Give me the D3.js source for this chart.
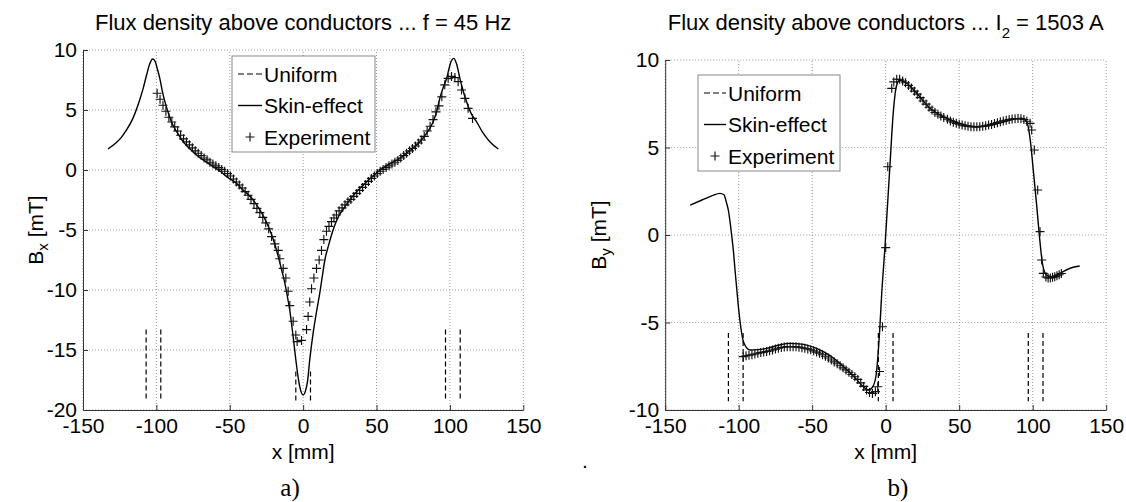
<!DOCTYPE html>
<html>
<head>
<meta charset="utf-8">
<script src="https://cdn.jsdelivr.net/npm/d3@7"></script>
<style>
  body { margin: 0; background: #fff; }
  svg text { font-family: "Liberation Sans", Arial, sans-serif; fill: #000; }
</style>
</head>
<body>
<svg width="1126" height="502"></svg>
<script>
// tick values
let xTicks = [-150, -100, -50, 0, 50, 100, 150];
let bxTicks = [-20, -15, -10, -5, 0, 5, 10];
let byTicks = [-10, -5, 0, 5, 10];

// conductor edges drawn with the "Uniform" dashed style
let uniformX = [-107, -97, -5, 5, 97, 107];
let bxUniformTop = [-13.3, -13.3, -16.8, -16.8, -13.3, -13.3];
let bxUniformBottom = -19.3;
let byUniformTop = [-5.6, -5.6, -5.6, -5.6, -5.6, -5.6];
let byUniformBottom = -9.5;

// a) Bx, skin-effect model
let bxSkinX = [-133, -128, -124, -120, -116, -112, -109, -106.5, -104.5, -102.6,
  -101, -99.5, -97.6, -96, -94.2, -92, -89.7, -86, -81.8, -77,
  -72.6, -67, -61.3, -56, -52.2, -46, -40.9, -35, -29.5, -26,
  -22.7, -19.5, -17, -14.5, -12.5, -10.5, -9.1, -6.8, -5, -3,
  -1.5, 0, 1.5, 3, 4.5, 6.8, 9, 11.4, 13, 14.8,
  17.5, 20.4, 24, 28.4, 33, 37.5, 45.4, 52, 58, 65.9,
  72, 79.5, 84, 88.6, 91, 93.1, 95.5, 97.7, 99.5, 101,
  102.7, 104.5, 106.8, 109, 111.3, 114.5, 118.1, 122, 127.2, 133];
let bxSkinY = [1.75, 2.2, 2.7, 3.4, 4.3, 5.6, 6.8, 8.0, 8.85, 9.25,
  9.1, 8.5, 7.6, 6.6, 5.7, 4.8, 4.0, 3.15, 2.36, 1.75,
  1.25, 0.75, 0.28, -0.15, -0.55, -1.05, -1.67, -2.35, -3.33, -4.1,
  -5.0, -6.1, -7.2, -8.4, -9.4, -10.7, -11.7, -13.9, -15.8, -17.6,
  -18.45, -18.75, -18.45, -17.6, -15.8, -13.6, -11.9, -10.2, -8.9, -7.5,
  -6.2, -5.0, -3.9, -3.06, -2.3, -1.67, -0.75, -0.05, 0.45, 0.97,
  1.55, 2.36, 3.05, 4.03, 4.9, 5.97, 6.9, 7.6, 8.5, 9.1,
  9.3, 8.85, 7.64, 6.6, 5.7, 4.7, 4.03, 3.2, 2.36, 1.75];

// a) Bx, measured
let bxExpX = [-99.5, -97.5, -95.5, -93.5, -91.5, -89.5, -87.5, -85.5, -83.5, -81.5,
  -79.5, -77.5, -75.5, -73.5, -71.5, -69.5, -67.5, -65.5, -63.5, -61.5,
  -59.5, -57.5, -55.5, -53.5, -51.5, -49.5, -47.5, -45.5, -43.5, -41.5,
  -39.5, -37.5, -35.5, -33.5, -31.5, -29.5, -27.5, -25.5, -23.5, -21.5,
  -19.3, -17, -15.9, -13.6, -11.8, -10.2, -9.1, -6.8, -5, -4.1, -1.1,
  2.3, 3.4, 4.5, 5.7, 7.3, 9.1, 10.9, 12.5, 14.1, 15.9,
  17.6, 19.3, 21, 22.7, 24.5, 26.5, 28.5, 30.5, 32.5, 34.5,
  36.5, 38.5, 40.5, 42.5, 44.5, 46.5, 48.5, 50.5, 52.5, 54.5,
  56.5, 58.5, 60.5, 62.5, 64.5, 66.5, 68.5, 70.5, 72.5, 74.5,
  76.5, 78.5, 80.5, 82.5, 84.5, 86.5, 88.5, 90.5, 92.5, 94.5,
  96.5, 98.8, 101.1, 103.4, 105.6, 107.9, 110.2, 112.4, 115.4];
let bxExpY = [6.4, 5.9, 5.4, 4.9, 4.4, 4.0, 3.6, 3.25, 2.9, 2.6,
  2.35, 2.1, 1.85, 1.6, 1.4, 1.2, 1.0, 0.85, 0.65, 0.5,
  0.35, 0.2, 0.05, -0.1, -0.3, -0.5, -0.75, -1.0, -1.25, -1.5,
  -1.8, -2.1, -2.45, -2.8, -3.2, -3.55, -3.95, -4.4, -4.9, -5.55,
  -6.15, -6.7, -7.4, -8.2, -9.0, -10.1, -11.3, -12.6, -13.75, -14.3, -14.2,
  -13.3, -12.2, -11.0, -9.9, -9.0, -8.2, -7.5, -6.7, -5.8, -5.1,
  -4.7, -4.3, -4.0, -3.75, -3.4, -3.15, -2.9, -2.65, -2.45, -2.2,
  -1.95, -1.7, -1.45, -1.2, -0.95, -0.7, -0.5, -0.3, -0.1, 0.05,
  0.2, 0.35, 0.5, 0.65, 0.8, 1.0, 1.2, 1.4, 1.6, 1.8,
  2.0, 2.25, 2.5, 2.8, 3.25, 3.65, 4.2, 4.85, 5.35, 6.1,
  7.1, 7.64, 7.8, 7.7, 7.36, 6.67, 5.97, 5.14, 4.3];

// b) By, skin-effect model
let bySkinX = [-133, -125, -118, -112.7, -110, -108.5, -107, -105.8, -104.8, -103.5,
  -102.5, -101.3, -100.2, -99, -98, -96.8, -95.7, -94, -92.3, -87,
  -81, -73, -65, -59, -53.7, -48, -42.4, -36, -28.8, -22,
  -15.2, -11.6, -9, -6.7, -4.2, -2.7, -0.5, 1.1, 2.9, 5.2,
  7.5, 9.7, 14.3, 21.1, 30.1, 39.2, 50.5, 61.9, 73.2, 84.6,
  92.5, 95.9, 98.2, 100.5, 102.7, 104.5, 106.8, 109.5, 114, 118.6,
  125.4, 132];
let bySkinY = [1.71, 2.0, 2.25, 2.38, 2.3, 1.9, 1.4, 0.7, 0, -1.0,
  -2.0, -3.1, -4.1, -5.0, -5.6, -6.1, -6.3, -6.5, -6.57, -6.55,
  -6.48, -6.3, -6.19, -6.22, -6.29, -6.45, -6.67, -7.0, -7.52, -8.05,
  -8.67, -8.86, -8.7, -8.1, -5.6, -3.33, -0.67, 1.52, 4.0, 7.05,
  8.57, 8.86, 8.67, 8.1, 7.24, 6.76, 6.38, 6.19, 6.29, 6.57,
  6.67, 6.48, 5.52, 3.62, 1.71, 0, -1.71, -2.29, -2.38, -2.19,
  -1.9, -1.77];

// b) By, measured
let byExpX = [-96.9, -95, -93, -91, -89, -87, -85, -83, -81, -79,
  -77, -75, -73, -71, -69, -67, -65, -63, -61, -59,
  -57, -55, -53, -51, -49, -47, -45, -43, -41, -39,
  -37, -35, -33, -31, -29, -27, -25, -23, -21, -19,
  -17, -15, -13, -11, -9, -7, -5.4, -4.2, -2.2, 0, 1.4, 4.1,
  5.5, 7.5, 9.5, 11.5, 13.5, 15.5, 17.5, 19.5, 21.5, 23.5,
  25.5, 27.5, 29.5, 31.5, 33.5, 35.5, 37.5, 39.5,
  42, 44, 46, 48, 50, 52, 54, 56, 58, 60,
  62, 64, 66, 68, 70, 72, 74, 76, 78, 80,
  82, 84, 86, 88, 90, 92, 94, 96,
  98.2, 99.3, 101.1, 103.4, 105, 106.1, 107.2,
  109, 110.5, 112, 113.5, 115, 116.5, 118, 119.5];
let byExpY = [-6.95, -6.9, -6.87, -6.84, -6.8, -6.76, -6.72, -6.69, -6.66, -6.62,
  -6.57, -6.52, -6.47, -6.43, -6.4, -6.38, -6.38, -6.38, -6.39, -6.41,
  -6.44, -6.47, -6.51, -6.56, -6.62, -6.69, -6.76, -6.84, -6.93, -7.03,
  -7.14, -7.25, -7.36, -7.47, -7.59, -7.71, -7.84, -7.97, -8.1, -8.25,
  -8.45, -8.65, -8.85, -9.0, -9.05, -8.95, -8.67, -7.8, -5.24, -0.72, 3.9, 8.38,
  8.75, 8.9, 8.9, 8.8, 8.7, 8.55, 8.4, 8.22, 8.05, 7.85,
  7.66, 7.48, 7.3, 7.14, 7.0, 6.9, 6.8, 6.72,
  6.62, 6.52, 6.45, 6.38, 6.33, 6.28, 6.24, 6.21, 6.19, 6.18,
  6.18, 6.19, 6.21, 6.24, 6.28, 6.32, 6.37, 6.42, 6.47, 6.52,
  6.56, 6.6, 6.63, 6.65, 6.66, 6.65, 6.6, 6.5,
  6.38, 6.0, 4.86, 2.57, 0.19, -1.43, -2.19,
  -2.4, -2.45, -2.45, -2.42, -2.38, -2.33, -2.27, -2.2];

let legendLabels = ["Uniform", "Skin-effect", "Experiment"];

let svg = d3.select("svg");
let plusPath = "M-4.5,0H4.5M0,-4.5V4.5";

let drawPanel = (p) => {
  let xScale = d3.scaleLinear().domain([-150, 150]).range([p.left, p.right]);
  let yScale = d3.scaleLinear().domain(p.yDomain).range([p.bottom, p.top]);
  let g = svg.append("g");

  // dotted grid
  g.selectAll(".vgrid").data(xTicks).enter().append("line")
   .attr("x1", d => xScale(d)).attr("x2", d => xScale(d))
   .attr("y1", p.bottom).attr("y2", p.top)
   .attr("stroke", "#9a9a9a").attr("stroke-dasharray", "1,2");
  g.selectAll(".hgrid").data(p.yTicks).enter().append("line")
   .attr("x1", p.left).attr("x2", p.right)
   .attr("y1", d => yScale(d)).attr("y2", d => yScale(d))
   .attr("stroke", "#9a9a9a").attr("stroke-dasharray", "1,2");

  // axes (box off: only left and bottom)
  let xAxis = d3.axisBottom(xScale).tickValues(xTicks)
                .tickSizeInner(-5).tickSizeOuter(0).tickPadding(8)
                .tickFormat(d => String(d));
  let xg = g.append("g").attr("transform", "translate(0," + p.bottom + ")").call(xAxis);
  let yAxis = d3.axisLeft(yScale).tickValues(p.yTicks)
                .tickSizeInner(-5).tickSizeOuter(0).tickPadding(6)
                .tickFormat(d => String(d));
  let yg = g.append("g").attr("transform", "translate(" + p.left + ",0)").call(yAxis);
  [xg, yg].forEach(a => {
    a.attr("font-size", 21).attr("font-family", "Liberation Sans, Arial, sans-serif");
    a.select(".domain").attr("stroke", "#333");
    a.selectAll(".tick line").attr("stroke", "#333");
    a.selectAll(".tick text").attr("fill", "#000");
  });

  // uniform (conductor edges, dashed)
  g.selectAll(".uni").data(d3.zip(uniformX, p.uniTop)).enter().append("line")
   .attr("x1", d => xScale(d[0])).attr("x2", d => xScale(d[0]))
   .attr("y1", d => yScale(d[1])).attr("y2", yScale(p.uniBottom))
   .attr("stroke", "#000").attr("stroke-width", 1.2).attr("stroke-dasharray", "5,3");

  // skin-effect curve
  let line = d3.line().x(d => xScale(d[0])).y(d => yScale(d[1])).curve(d3.curveMonotoneX);
  g.append("path").datum(d3.zip(p.skinX, p.skinY))
   .attr("d", line).attr("fill", "none").attr("stroke", "#000").attr("stroke-width", 1.4);

  // experiment markers
  g.selectAll(".exp").data(d3.zip(p.expX, p.expY)).enter().append("path")
   .attr("d", plusPath)
   .attr("transform", d => "translate(" + xScale(d[0]) + "," + yScale(d[1]) + ")")
   .attr("stroke", "#111").attr("stroke-width", 1.15).attr("fill", "none");

  // title
  let title = g.append("text").attr("x", (p.left + p.right) / 2).attr("y", 30)
               .attr("text-anchor", "middle").attr("font-size", 22);
  title.append("tspan").text(p.title);
  if (p.titleSub) {
    title.append("tspan").attr("font-size", 15).attr("dy", 8).text(p.titleSub);
    title.append("tspan").attr("dy", -8).text(p.titleEnd);
  }

  // axis labels
  g.append("text").attr("x", (p.left + p.right) / 2).attr("y", 459)
   .attr("text-anchor", "middle").attr("font-size", 21).text("x [mm]");
  let yl = g.append("text").attr("transform", "translate(" + p.ylabelX + "," + ((p.top + p.bottom) / 2) + ") rotate(-90)")
            .attr("text-anchor", "middle").attr("font-size", 21);
  yl.append("tspan").text("B");
  yl.append("tspan").attr("font-size", 15).attr("dy", 5).text(p.ySub);
  yl.append("tspan").attr("dy", -5).text(" [mT]");

  // legend
  let lg = svg.append("g");
  lg.append("rect").attr("x", p.legend.x).attr("y", p.legend.y)
    .attr("width", p.legend.w).attr("height", p.legend.h)
    .attr("fill", "#fff").attr("stroke", "#888").attr("stroke-width", 1);
  legendLabels.forEach((lab, i) => {
    let cy = p.legend.y + 18 + i * 31.5;
    let sx = p.legend.x + 6;
    if (i === 0) {
      lg.append("line").attr("x1", sx).attr("x2", sx + p.legend.sw).attr("y1", cy).attr("y2", cy)
        .attr("stroke", "#000").attr("stroke-width", 1.2).attr("stroke-dasharray", "6,3");
    } else if (i === 1) {
      lg.append("line").attr("x1", sx).attr("x2", sx + p.legend.sw).attr("y1", cy).attr("y2", cy)
        .attr("stroke", "#000").attr("stroke-width", 1.4);
    } else {
      lg.append("path").attr("d", plusPath)
        .attr("transform", "translate(" + (sx + p.legend.sw / 2) + "," + cy + ")")
        .attr("stroke", "#111").attr("stroke-width", 1.15).attr("fill", "none");
    }
    lg.append("text").attr("x", sx + p.legend.sw + 2).attr("y", cy + 7.5)
      .attr("font-size", 21).text(lab);
  });

  // panel caption
  svg.append("text").attr("x", p.capX).attr("y", 496)
     .attr("text-anchor", "middle").attr("font-size", 25)
     .style("font-family", "'Liberation Serif', 'Times New Roman', serif")
     .text(p.caption);
};

drawPanel({
  left: 83, right: 523.3, top: 50, bottom: 410,
  yDomain: [-20, 10], yTicks: bxTicks, uniTop: bxUniformTop, uniBottom: bxUniformBottom,
  skinX: bxSkinX, skinY: bxSkinY, expX: bxExpX, expY: bxExpY,
  title: "Flux density above conductors ... f = 45 Hz",
  ySub: "x", ylabelX: 43,
  legend: { x: 232, y: 56, w: 143, h: 96, sw: 24 },
  caption: "a)", capX: 290
});

drawPanel({
  left: 665.2, right: 1106.2, top: 60, bottom: 410,
  yDomain: [-10, 10], yTicks: byTicks, uniTop: byUniformTop, uniBottom: byUniformBottom,
  skinX: bySkinX, skinY: bySkinY, expX: byExpX, expY: byExpY,
  title: "Flux density above conductors ... I", titleSub: "2", titleEnd: " = 1503 A",
  ySub: "y", ylabelX: 606,
  legend: { x: 698, y: 75, w: 142, h: 96, sw: 22 },
  caption: "b)", capX: 898
});

// stray dot in the source figure
svg.append("text").attr("x", 582).attr("y", 468).attr("font-size", 21).text(".");
</script>
</body>
</html>
